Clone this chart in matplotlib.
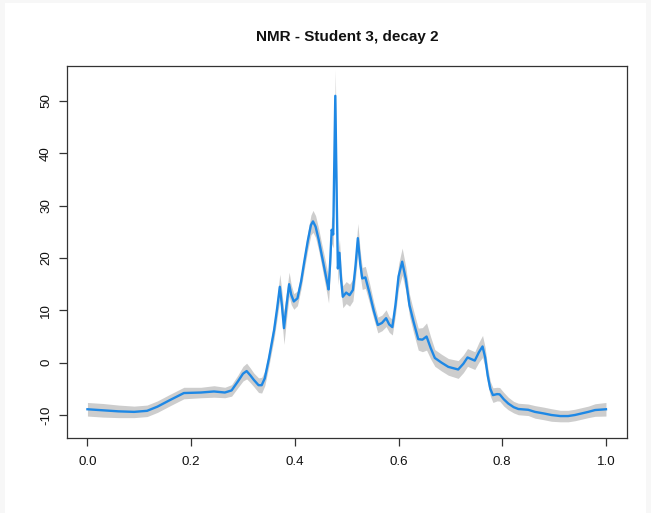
import matplotlib
matplotlib.use("Agg")
import matplotlib.pyplot as plt
from matplotlib.patches import Rectangle
import numpy as np

# smoothed NMR signal: position, fit, band half-width
x_vals = [
    0.000, 0.030, 0.060, 0.090, 0.115, 0.135, 0.160, 0.186, 0.219, 0.244,
    0.265, 0.278, 0.290, 0.300, 0.307, 0.314, 0.321, 0.330, 0.336, 0.342,
    0.350, 0.360, 0.366, 0.371, 0.375, 0.379, 0.384, 0.389, 0.393, 0.398,
    0.405, 0.412, 0.418, 0.425, 0.431, 0.435, 0.440, 0.446, 0.451, 0.457,
    0.462, 0.465, 0.468, 0.471, 0.474, 0.478, 0.481, 0.483, 0.486, 0.489,
    0.4925, 0.499, 0.5055, 0.512, 0.517, 0.5215, 0.526, 0.530, 0.536, 0.544,
    0.552, 0.560, 0.568, 0.576, 0.582, 0.588, 0.594, 0.600, 0.607, 0.614,
    0.621, 0.629, 0.638, 0.646, 0.654, 0.662, 0.670, 0.683, 0.696, 0.715,
    0.725, 0.733, 0.740, 0.747, 0.755, 0.762, 0.767, 0.772, 0.777, 0.782,
    0.790, 0.795, 0.803, 0.8115, 0.822, 0.831, 0.850, 0.863, 0.880, 0.895,
    0.912, 0.927, 0.940, 0.953, 0.966, 0.979, 1.000,
]
y_vals = [
    -8.9, -9.1, -9.3, -9.4, -9.2, -8.4, -7.1, -5.8, -5.7, -5.5,
    -5.7, -5.3, -3.6, -2.1, -1.6, -2.4, -3.3, -4.3, -4.3, -3.0,
    0.8, 6.25, 10.5, 14.5, 11.0, 6.6, 11.0, 15.0, 13.0, 11.7,
    12.3, 15.5, 19.2, 23.3, 26.3, 27.0, 26.0, 23.5, 21.0, 18.0,
    15.5, 14.0, 19.0, 25.4, 24.5, 51.0, 30.0, 18.0, 21.0, 16.0,
    12.6, 13.4, 12.9, 13.9, 18.5, 23.8, 19.0, 16.1, 16.3, 13.3,
    10.0, 7.2, 7.6, 8.5, 7.3, 6.8, 11.0, 16.5, 19.3, 16.0,
    11.0, 7.8, 4.5, 4.4, 5.0, 2.8, 0.9, 0.0, -0.8, -1.3,
    -0.2, 1.0, 0.7, 0.4, 2.0, 3.1, 1.0, -2.5, -5.0, -6.2,
    -6.0, -6.05, -7.0, -7.8, -8.5, -8.85, -9.0, -9.4, -9.7, -10.0,
    -10.2, -10.2, -10.0, -9.7, -9.4, -9.05, -8.9,
]
band_hw = [
    1.3, 1.3, 1.2, 1.1, 1.1, 1.1, 1.1, 1.1, 1.0, 1.1,
    1.0, 1.1, 1.2, 1.4, 1.5, 1.4, 1.3, 1.4, 1.5, 1.4,
    1.4, 1.6, 1.9, 2.4, 2.7, 3.1, 2.6, 2.3, 1.9, 1.5,
    1.4, 1.4, 1.5, 1.7, 1.9, 2.1, 2.1, 2.1, 2.1, 2.3,
    2.4, 2.6, 2.6, 2.6, 2.6, 5.0, 4.0, 3.1, 2.6, 2.4,
    2.1, 2.1, 2.1, 2.1, 2.4, 2.8, 2.4, 2.1, 2.1, 1.9,
    1.6, 1.5, 1.5, 1.6, 1.5, 1.5, 1.9, 2.3, 2.6, 2.3,
    2.1, 2.1, 2.1, 2.3, 2.6, 2.1, 1.6, 1.6, 1.6, 1.7,
    1.7, 1.7, 1.7, 1.7, 1.9, 2.1, 1.9, 1.6, 1.4, 1.4,
    1.3, 1.3, 1.3, 1.2, 1.1, 1.1, 1.1, 1.2, 1.2, 1.2,
    1.1, 1.1, 1.1, 1.1, 1.1, 1.2, 1.3,
]
x_ticks = [0.0, 0.2, 0.4, 0.6, 0.8, 1.0]
y_ticks = [-10, 0, 10, 20, 30, 40, 50]
title = "NMR - Student 3, decay 2"

LINE_COLOR = "#1E88E5"
BAND_COLOR = "#CDCDCD"

plt.rcParams["font.family"] = ["Liberation Sans", "DejaVu Sans"]

fig = plt.figure(figsize=(6.51, 5.13), dpi=100, facecolor="#f7f7f7")
# white page inside the light screenshot margin
fig.patches.append(Rectangle((5 / 651, 0), 641 / 651, 510 / 513,
                             transform=fig.transFigure, facecolor="white",
                             edgecolor="none", zorder=-10))

ax = fig.add_axes([66.7 / 651, 1 - 438.3 / 513, 560 / 651, 372.3 / 513])
ax.set_facecolor("white")

x = np.array(x_vals)
y = np.array(y_vals)
hw = np.array(band_hw)
ax.fill_between(x, y - hw, y + hw, color=BAND_COLOR, linewidth=0, zorder=2)
ax.plot(x, y, color=LINE_COLOR, linewidth=1.7, zorder=3,
        solid_joinstyle="round")

ax.set_xlim(-0.04, 1.04)
ax.set_ylim(-14.45, 56.7)

ax.set_xticks(x_ticks)
ax.set_xticklabels([f"{t:.1f}" for t in x_ticks])
ax.set_yticks(y_ticks)
ax.set_yticklabels([str(t) for t in y_ticks], rotation=90, va="center")

for side in ax.spines.values():
    side.set_color("#333333")
    side.set_linewidth(0.9)

ax.tick_params(axis="both", direction="out", length=5.5, width=0.9,
               color="#333333", labelsize=9.6, labelcolor="#111111")
ax.tick_params(axis="x", pad=7)
ax.tick_params(axis="y", pad=5)

fig.text(0.534, 1 - 37 / 513, title, ha="center", va="center",
         fontsize=11, fontweight="bold", color="#111111")

fig.savefig("out.png", dpi=100, facecolor=fig.get_facecolor())
